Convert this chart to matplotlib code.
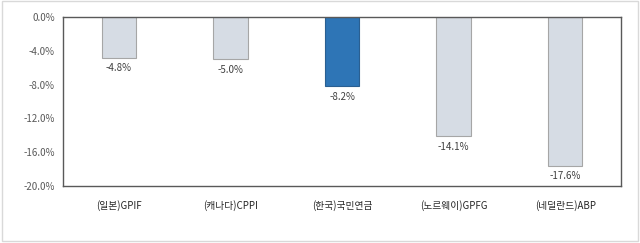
import matplotlib.pyplot as plt
from matplotlib.patches import Rectangle

plt.rcParams['font.family'] = ['Noto Sans CJK KR', 'DejaVu Sans']

categories = ["(일본)GPIF", "(캐나다)CPPI", "(한국)국민연금", "(노르웨이)GPFG", "(네덜란드)ABP"]
returns = [-4.8, -5.0, -8.2, -14.1, -17.6]
highlight = "(한국)국민연금"
yticks = [0, -4, -8, -12, -16, -20]

fig = plt.figure(figsize=(6.4, 2.43), dpi=100)
fig.patches.append(Rectangle((0.003, 0.01), 0.994, 0.985, transform=fig.transFigure,
                             fill=False, edgecolor="#d9d9d9", linewidth=1))
ax = fig.add_axes([63 / 640, 1 - 186 / 243, 558 / 640, 169 / 243])

x = range(len(categories))
colors = ["#2e75b6" if c == highlight else "#d6dce4" for c in categories]
edges = ["#2a5f91" if c == highlight else "#a6a6a6" for c in categories]
bars = ax.bar(x, returns, width=0.31, color=colors, edgecolor=edges, linewidth=0.8)

for xi, v in zip(x, returns):
    ax.annotate(f"{v:.1f}%", (xi, v), xytext=(0, -4), textcoords="offset points",
                ha="center", va="top", fontsize=7, color="#404040")

ax.set_xlim(-0.5, len(categories) - 0.5)
ax.set_ylim(-20, 0)
ax.set_yticks(yticks)
ax.set_yticklabels([f"{t:.1f}%" for t in yticks], fontsize=7, color="#595959")
ax.set_xticks(list(x))
ax.set_xticklabels(categories, fontsize=7, color="#262626")
ax.tick_params(length=0, pad=6)
ax.tick_params(axis="x", pad=10)
for s in ax.spines.values():
    s.set_color("#595959")
    s.set_linewidth(1)

fig.savefig("out.png", dpi=100)
